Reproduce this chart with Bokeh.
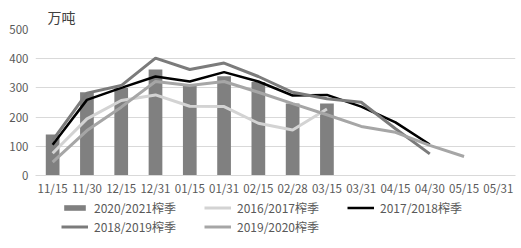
from bokeh.plotting import figure
from bokeh.models import Legend, LegendItem, Title, FixedTicker
from bokeh.layouts import column
from bokeh.embed import file_html
from bokeh.resources import INLINE

categories = ["11/15", "11/30", "12/15", "12/31", "01/15", "01/31", "02/15",
              "02/28", "03/15", "03/31", "04/15", "04/30", "05/15", "05/31"]

s2021 = [140, 285, 300, 363, 312, 340, 320, 247, 247]
s1617 = [76, 194, 257, 276, 237, 236, 179, 156, 228]
s1718 = [105, 259, 300, 339, 322, 354, 322, 274, 276, 236, 182, 106]
s1819 = [120, 282, 308, 402, 363, 385, 339, 285, 263, 251, 160, 74]
s1920 = [46, 154, 234, 322, 308, 322, 285, 246, 208, 168, 148, 103, 65]

yticks = [0, 100, 200, 300, 400, 500]

FONT = "Noto Sans CJK SC"
TXT = "#595959"
C_BAR = "#808080"
C1617 = "#d3d3d3"
C1718 = "#000000"
C1819 = "#7b7b7b"
C1920 = "#a6a6a6"

p = figure(x_range=categories, y_range=(0, 500), width=521, height=199,
           output_backend="svg", toolbar_location=None,
           min_border_left=35, min_border_right=6, min_border_top=29,
           min_border_bottom=24)
p.outline_line_color = None

p.vbar(x=categories[:len(s2021)], top=s2021, width=0.4,
       color=C_BAR, line_color=None)
p.line(categories[:len(s1617)], s1617, color=C1617, line_width=3)
p.line(categories[:len(s1718)], s1718, color=C1718, line_width=2.5)
p.line(categories[:len(s1819)], s1819, color=C1819, line_width=3)
p.line(categories[:len(s1920)], s1920, color=C1920, line_width=3)

p.yaxis.ticker = FixedTicker(ticks=yticks)
p.yaxis.axis_line_color = None
p.yaxis.major_tick_line_color = None
p.yaxis.minor_tick_line_color = None
p.yaxis.major_tick_out = 0
p.yaxis.major_label_text_font = FONT
p.yaxis.major_label_text_font_size = "11.5px"
p.yaxis.major_label_text_color = TXT
p.yaxis.major_label_standoff = 7

p.xaxis.axis_line_color = "#d9d9d9"
p.xaxis.major_tick_line_color = None
p.xaxis.minor_tick_line_color = None
p.xaxis.major_tick_out = 0
p.xaxis.major_label_text_font = FONT
p.xaxis.major_label_text_font_size = "11.5px"
p.xaxis.major_label_text_color = TXT
p.xaxis.major_label_standoff = 4

p.xgrid.grid_line_color = None
p.ygrid.grid_line_color = "#d9d9d9"
p.ygrid.grid_line_width = 1

t = Title(text="万吨", align="left", offset=12, text_font=FONT,
          text_font_size="14px", text_color="#404040", text_font_style="normal",
          standoff=6)
p.add_layout(t, "above")

# legend panel
lf = figure(width=521, height=49, output_backend="svg", toolbar_location=None,
            min_border=0, x_range=(0, 1), y_range=(0, 1))
lf.axis.visible = False
lf.grid.visible = False
lf.outline_line_color = None
off = [-10, -11]
rb = lf.vbar(x=off, top=off, width=0.4, color=C_BAR, line_color=None)
r1 = lf.line(off, off, color=C1617, line_width=3)
r2 = lf.line(off, off, color=C1718, line_width=2.5)
r3 = lf.line(off, off, color=C1819, line_width=3)
r4 = lf.line(off, off, color=C1920, line_width=3)


def mk_legend(items, ypos):
    return Legend(items=items, orientation="horizontal", location=(26, ypos),
                  label_text_font=FONT, label_text_font_size="12px",
                  label_text_color=TXT, glyph_width=27, glyph_height=7,
                  label_standoff=6, label_width=104, spacing=6, padding=0,
                  margin=0, border_line_color=None, background_fill_alpha=0,
                  label_height=14)


leg1 = mk_legend([LegendItem(label="2020/2021榨季", renderers=[rb]),
                  LegendItem(label="2016/2017榨季", renderers=[r1]),
                  LegendItem(label="2017/2018榨季", renderers=[r2])], 32)
leg2 = mk_legend([LegendItem(label="2018/2019榨季", renderers=[r3]),
                  LegendItem(label="2019/2020榨季", renderers=[r4])], 13)
lf.add_layout(leg1, "center")
lf.add_layout(leg2, "center")

layout = column(p, lf, spacing=0)
open("out.html", "w").write(file_html(layout, INLINE))
